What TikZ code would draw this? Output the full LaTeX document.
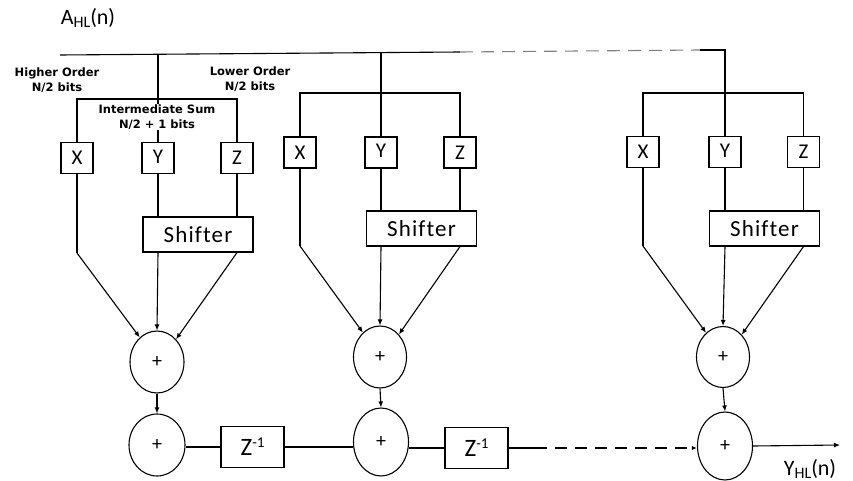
\documentclass[tikz,border=0pt]{standalone}
\usepackage{fontspec}
\setmainfont{Carlito}
\newfontfamily\labfont{DejaVu Sans}
\newfontfamily\shfont[LetterSpace=5,Ligatures=NoCommon]{Carlito}
\usetikzlibrary{arrows.meta,shapes.geometric}
\begin{document}
\begin{tikzpicture}[x=1pt,y=-1pt,
  line width=1.1pt,
  inbox/.style={draw,rectangle,minimum width=32pt,minimum height=31pt,inner sep=0pt,font=\fontsize{21}{21}\selectfont},
  shbox/.style={draw,rectangle,minimum width=110pt,minimum height=35pt,inner sep=0pt,font=\shfont\fontsize{23}{23}\selectfont},
  dbox/.style={draw,rectangle,minimum width=63pt,minimum height=41pt,inner sep=0pt,font=\fontsize{25}{25}\selectfont},
  adder/.style={draw,ellipse,minimum width=54pt,minimum height=62pt,inner sep=0pt,font=\fontsize{20}{20}\selectfont},
  lab/.style={align=center,font=\labfont\bfseries\fontsize{11.5}{15}\selectfont},
  arr/.style={-{Latex[length=6pt,width=5pt]}},
  dsh/.style={dash pattern=on 13pt off 8pt,draw=gray}
]
\path[use as bounding box] (0,0) rectangle (853,481);

% title
\node[font=\fontsize{22}{22}\selectfont] (ahl) at (88,18) {A\raisebox{-2.5pt}{\fontsize{16}{16}\selectfont HL}(n)};

% input boxes
\node[inbox] (X1) at (77,158) {X};
\node[inbox] (Y1) at (158,158) {\raisebox{3pt}{Y}};
\node[inbox] (Z1) at (237,158) {Z};
\node[inbox] (X2) at (300,152.5) {X};
\node[inbox] (Y2) at (381,152.5) {\raisebox{3pt}{Y}};
\node[inbox] (Z2) at (460,152.5) {Z};
\node[inbox] (X3) at (643,152) {X};
\node[inbox] (Y3) at (725,152) {\raisebox{3pt}{Y}};
\node[inbox] (Z3) at (803.5,152) {Z};

% shifters
\node[shbox] (S1) at (198,234.5) {Shifter};
\node[shbox] (S2) at (421.5,228.5) {Shifter};
\node[shbox] (S3) at (764.5,228.5) {Shifter};

% adders
\node[adder] (A1) at (157,362) {+};
\node[adder,minimum width=56pt] (B1) at (157,445) {+};
\node[adder,minimum width=53pt] (A2) at (380,357) {+};
\node[adder,minimum width=55pt,minimum height=68pt] (B2) at (381,442) {+};
\node[adder,minimum width=53pt,minimum height=61pt] (A3) at (723,357) {+};
\node[adder,minimum width=55pt,minimum height=68pt] (B3) at (725,446) {+};

% delays
\node[dbox] (D1) at (252.5,447) {Z\raisebox{8pt}{\fontsize{15}{15}\selectfont -1}};
\node[dbox] (D2) at (476.5,448) {Z\raisebox{8pt}{\fontsize{15}{15}\selectfont -1}};

% top input bus
\coordinate (t0) at (60,55);
\coordinate (t1) at (460,52);
\coordinate (t2) at (700,50);
\coordinate (t3) at (725,50);
\draw (t0) -- (t1);
\draw[dsh] (t1) -- (t2);
\draw (t2) -- (t3) -- (Y3.north);
\draw (Y1 |- t0) -- (Y1.north);
\draw (Y2 |- t1) -- (Y2.north);

% distribution buses
\coordinate (b1) at (158,99);
\coordinate (b2) at (381,93);
\coordinate (b3) at (725,93);
\draw (X1.north) |- (b1) -| (Z1.north);
\draw (X2.north) |- (b2) -| (Z2.north);
\draw (X3.north) |- (b3) -| (Z3.north);

% labels
\node[lab] (hi) at (57,80) {Higher Order\\N/2 bits};
\node[lab] (lo) at (250,79) {Lower Order\\N/2 bits};
\node[lab,fill=white,inner sep=1pt] (im) at (157,117) {Intermediate Sum\\N/2 + 1 bits};

% into shifters
\foreach \i in {1,2,3}{
  \draw (Y\i.south) -- (Y\i.south |- S\i.north);
  \draw (Z\i.south) -- (Z\i.south |- S\i.north);
}

% X paths
\coordinate (xe1) at (77,253);
\coordinate (xe2) at (300,246);
\coordinate (xe3) at (643,246);
\draw (X1.south) -- (xe1);
\draw (X2.south) -- (xe2);
\draw (X3.south) -- (xe3);
\draw[arr] (xe1) -- (A1.125);
\draw[arr] (xe2) -- (A2.125);
\draw[arr] (xe3) -- (A3.125);

% shifter outputs
\draw[arr] (S1.south -| Y1) -- (A1.north);
\draw[arr] (S1.south -| Z1) -- (A1.50);
\draw[arr] (S2.south -| Y2) -- (A2.north);
\draw[arr] (S2.south -| Z2) -- (A2.50);
\draw[arr] (S3.south -| Y3) -- (A3.north);
\draw[arr] (S3.south -| Z3) -- (A3.50);

% adder chain
\draw[arr] (A1.south) -- (B1.north);
\draw[arr] (A2.south) -- (B2.north);
\draw[arr] (A3.south) -- (B3.north);
\draw (D1.west) -- (D1.west -| B1.east);
\draw (D1.east) -- (D1.east -| B2.west);
\draw (D2.west) -- (D2.west -| B2.east);
\coordinate (d2e) at (535,446);
\draw (D2.east) -- (D2.east -| d2e);
\draw[dash pattern=on 12pt off 8pt,-{Latex[length=5pt,width=4pt]}] (D2.east -| d2e) -- (D2.east -| B3.west);
\coordinate (out) at (840,445);
\draw[arr] (B3.east) -- (out);
\node[font=\fontsize{22}{22}\selectfont] (yhl) at (810,469) {Y\raisebox{-2.5pt}{\fontsize{16}{16}\selectfont HL}(n)};
\end{tikzpicture}
\end{document}
